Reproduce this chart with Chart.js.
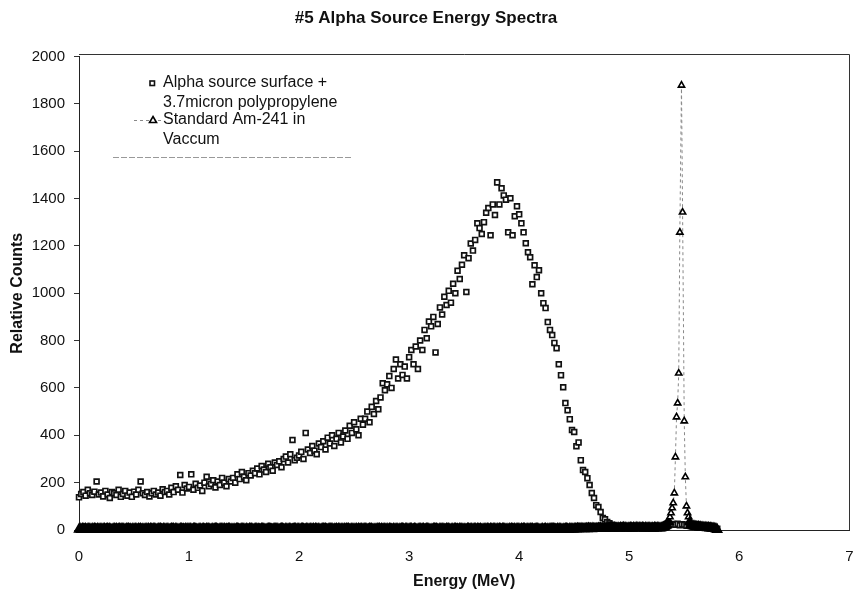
<!DOCTYPE html>
<html>
<head>
<meta charset="utf-8">
<script src="https://cdn.jsdelivr.net/npm/chart.js@4.4.1/dist/chart.umd.min.js"></script>
<style>
  html, body { margin: 0; padding: 0; background: #fff; }
  #wrap { width: 856px; height: 594px; position: relative; }
</style>
</head>
<body>
<div id="wrap"><canvas id="spectra"></canvas></div>
<script>
// channel widths (MeV per channel); both runs start at 0 MeV
const alphaStep = 0.02;
const amStep = 0.01;

// alpha source surface + 3.7 micron polypropylene, counts per channel
const alphaCounts = [
  138,152,160,145,170,155,148,162,205,150,
  158,142,165,150,135,160,155,148,170,140,
  152,165,145,158,140,162,150,170,205,155,
  148,160,142,155,165,150,158,145,172,160,
  165,150,178,160,185,170,232,158,190,175,
  182,235,170,195,178,188,165,200,225,185,
  195,210,180,205,190,220,200,185,215,205,
  220,200,235,215,245,225,210,240,230,250,
  240,260,235,270,255,245,280,265,250,285,
  275,290,265,300,310,285,320,380,295,305,
  315,330,300,410,340,325,355,335,320,365,
  350,375,340,390,365,400,355,385,410,370,
  395,420,385,440,410,455,425,400,470,445,
  470,500,455,520,490,545,510,560,620,590,
  615,650,600,680,720,640,700,655,690,640,
  730,760,700,775,680,800,760,845,810,880,
  860,900,750,870,940,910,985,950,1010,960,
  1040,1000,1095,1060,1120,1160,1005,1148,1210,1180,
  1225,1295,1275,1250,1300,1340,1360,1245,1375,1330,
  1468,1375,1443,1413,1395,1257,1401,1245,1325,1367,
  1333,1295,1257,1211,1173,1152,1038,1118,1068,1097,
  1000,958,937,878,845,823,790,768,700,654,
  603,536,506,468,422,414,354,370,295,253,
  245,219,190,156,135,105,97,76,51,45,
  34,28,22,18,15,12,10,14,9,11,
  8,12,7,10,9,13,8,11,7,10,
  9,12,8,14,10,15,18,22,20,24,
  25,22,26,20,24,22,18,23,20,16,
  14,12,15,10,13,9,11,8,10,7,
  5
];

// standard Am-241 in vacuum: flat part below the line (0 .. 5.34 MeV)
const amBaseCounts = [
  3,5,2,6,4,3,5,2,4,6, 4,2,5,3,6,4,2,5,3,4,
  5,3,4,6,2,4,5,3,6,2, 2,4,6,3,5,2,4,6,3,5,
  6,3,2,5,4,6,3,4,2,5, 3,6,4,2,5,3,6,2,4,3,
  4,5,3,6,2,5,4,3,5,6, 2,3,5,4,6,3,2,5,4,3,
  5,4,2,3,6,4,5,2,6,4, 3,2,6,5,3,4,2,6,3,5,
  4,6,3,2,5,6,4,3,2,4, 6,2,4,5,3,2,5,4,6,3,
  2,5,3,4,6,5,3,2,4,6, 5,3,6,2,4,3,6,5,2,4,
  3,4,2,6,5,4,2,3,5,6, 4,2,5,3,2,6,4,5,3,2,
  6,5,3,4,3,2,5,6,4,3, 2,4,6,5,4,3,2,4,6,5,
  5,3,2,4,6,5,3,2,5,4, 3,6,4,2,3,4,6,5,2,6,
  4,2,5,6,4,2,3,6,4,3, 6,4,3,5,2,6,4,3,5,2,
  3,5,6,4,5,3,2,4,6,5, 5,2,4,3,6,2,5,4,3,6,
  2,6,3,5,4,6,2,3,5,4, 4,3,5,2,6,3,4,6,2,5,
  6,4,2,3,5,4,6,2,3,4, 3,5,4,6,2,5,3,4,6,2,
  5,2,6,4,3,2,5,3,4,6, 2,4,3,5,6,4,2,6,5,3,
  4,6,5,2,3,6,4,2,3,5, 6,3,4,5,2,3,6,5,4,2,
  3,2,5,6,4,5,3,2,6,4, 5,4,3,2,6,4,5,3,2,6,
  2,5,6,3,4,2,6,4,5,3, 4,3,2,6,5,3,4,5,2,6,
  6,2,5,4,3,6,2,3,4,5, 3,6,4,2,5,4,3,6,5,2,
  5,3,6,4,2,5,6,4,3,4, 2,5,3,6,4,3,5,2,6,5,
  4,2,6,3,5,6,2,4,5,3, 6,4,5,2,3,4,6,5,3,2,
  3,5,2,4,6,2,4,3,5,6, 5,6,4,3,2,5,3,6,4,2,
  4,3,5,6,4,2,5,4,6,3, 5,6,4,7,5,6,5,7,6,5,
  6,7,5,8,6,7,5,8,7,6, 7,6,8,7,9,6,8,7,6,8,
  8,9,7,10,8,9,7,10,9,8, 9,7,10,8,9,11,8,10,7,9,
  8,10,9,7,10,8,9,11,8,10, 9,8,10,9,7,10,8,9,10,8,
  8,9,7,10,9,8,10,9,8,9,
  10,12,14,17,22
];

// the 5.48 MeV line itself
const amPeakEnergy = [5.36,5.37,5.38,5.39,5.40,5.41,5.42,5.43,5.44,5.45,5.46,5.475,5.485,5.50,5.51,5.52,5.53,5.54,5.55,5.56];
const amPeakCounts = [34,55,72,93,114,156,308,477,536,662,1257,1878,1342,460,224,101,72,55,34,20];

// tail after the line, starting at 5.58 MeV
const amTailStart = 5.58;
const amTailCounts = [17,16,15,14,13,14,12,13,11,12,10,11,10,9,10,8,9,8,7,8,6,4,2];

const xTicks = [0, 1, 2, 3, 4, 5, 6, 7];
const yTicks = [0, 200, 400, 600, 800, 1000, 1200, 1400, 1600, 1800, 2000];

const alphaPoints = alphaCounts.map((c, i) => ({ x: +(i * alphaStep).toFixed(3), y: c }));
const amPoints = amBaseCounts.map((c, i) => ({ x: +(i * amStep).toFixed(3), y: c }))
  .concat(amPeakEnergy.map((e, i) => ({ x: e, y: amPeakCounts[i] })))
  .concat(amTailCounts.map((c, i) => ({ x: +(amTailStart + i * amStep).toFixed(3), y: c })));

// markers sitting on the floor overlap into the heavy black band of the print
const onFloor = c => !!(c.raw && c.raw.y < 40);

Chart.defaults.font.family = '"Liberation Sans", Arial, sans-serif';
Chart.defaults.color = '#111';

// plot frame (top and right edges) like the spreadsheet chart
const framePlugin = {
  id: 'frame',
  beforeDatasetsDraw(chart) {
    const { ctx, chartArea: a } = chart;
    ctx.save();
    ctx.strokeStyle = '#333';
    ctx.lineWidth = 1;
    ctx.beginPath();
    ctx.moveTo(a.left, Math.round(a.top) - 1.5);
    ctx.lineTo(Math.round(a.right) + 0.5, Math.round(a.top) - 1.5);
    ctx.lineTo(Math.round(a.right) + 0.5, a.bottom);
    ctx.stroke();
    ctx.restore();
  }
};

// legend inside the plot, two-line labels
const legendPlugin = {
  id: 'boxLegend',
  afterDraw(chart) {
    const { ctx, chartArea: a } = chart;
    const x0 = a.left;
    ctx.save();
    ctx.font = '16px "Liberation Sans", Arial, sans-serif';
    ctx.textBaseline = 'middle';
    ctx.textAlign = 'left';

    // square marker
    ctx.lineWidth = 1.6;
    ctx.strokeStyle = '#111';
    ctx.fillStyle = '#fff';
    ctx.fillRect(x0 + 71, 81, 4.5, 4.5);
    ctx.strokeRect(x0 + 71, 81, 4.5, 4.5);
    ctx.fillStyle = '#111';
    ctx.fillText('Alpha source surface +', x0 + 84, 83);
    ctx.fillText('3.7micron polypropylene', x0 + 84, 103);

    // dashed line + triangle marker
    ctx.strokeStyle = '#888';
    ctx.lineWidth = 1;
    ctx.setLineDash([3, 3]);
    ctx.beginPath();
    ctx.moveTo(x0 + 55, 120.5);
    ctx.lineTo(x0 + 82, 120.5);
    ctx.stroke();
    ctx.setLineDash([]);
    ctx.strokeStyle = '#000';
    ctx.lineWidth = 1.6;
    ctx.fillStyle = '#fff';
    ctx.beginPath();
    ctx.moveTo(x0 + 74, 116.5);
    ctx.lineTo(x0 + 77.5, 122.5);
    ctx.lineTo(x0 + 70.5, 122.5);
    ctx.closePath();
    ctx.fill();
    ctx.stroke();
    ctx.fillStyle = '#111';
    ctx.fillText('Standard Am-241 in', x0 + 84, 120);
    ctx.fillText('Vaccum', x0 + 84, 140);

    // bottom edge of the legend box
    ctx.strokeStyle = '#999';
    ctx.lineWidth = 1;
    ctx.setLineDash([6, 2]);
    ctx.beginPath();
    ctx.moveTo(x0 + 34, 157.5);
    ctx.lineTo(x0 + 272, 157.5);
    ctx.stroke();
    ctx.restore();
  }
};

new Chart(document.getElementById('spectra'), {
  type: 'scatter',
  data: {
    datasets: [
      {
        label: 'Standard Am-241 in Vaccum',
        data: amPoints,
        order: 0,
        showLine: true,
        borderColor: '#888',
        borderWidth: 1,
        borderDash: [3, 3],
        pointStyle: 'triangle',
        pointRadius: c => (onFloor(c) ? 4.3 : 3.6),
        pointBorderWidth: c => (onFloor(c) ? 2.4 : 1.6),
        pointBorderColor: '#000',
        pointBackgroundColor: c => (onFloor(c) ? '#000' : '#fff'),
        clip: false
      },
      {
        label: 'Alpha source surface + 3.7micron polypropylene',
        data: alphaPoints,
        order: 1,
        showLine: false,
        pointStyle: 'rect',
        pointRadius: 3.4,
        pointBorderWidth: 1.7,
        pointBorderColor: '#111',
        pointBackgroundColor: '#fff',
        clip: false
      }
    ]
  },
  options: {
    responsive: true,
    maintainAspectRatio: false,
    animation: false,
    devicePixelRatio: 1,
    layout: { padding: { left: 0, right: 4, top: 0, bottom: 0 } },
    plugins: {
      legend: { display: false },
      tooltip: { enabled: false },
      title: {
        display: true,
        text: '#5 Alpha Source Energy Spectra',
        color: '#111',
        font: { size: 17, weight: 'bold' },
        padding: { top: 8, bottom: 28 }
      }
    },
    scales: {
      x: {
        type: 'linear',
        min: 0,
        max: 7,
        afterBuildTicks: s => { s.ticks = xTicks.map(v => ({ value: v })); },
        afterFit: s => { s.height = 64; s.paddingLeft = 0; s.paddingRight = 0; },
        ticks: { font: { size: 15 }, color: '#111', padding: 10, maxRotation: 0, callback: v => String(v) },
        grid: { display: false },
        border: { display: true, color: '#222', width: 1 },
        title: {
          display: true,
          text: 'Energy (MeV)',
          color: '#111',
          font: { size: 16, weight: 'bold' },
          padding: { top: 0, bottom: 3 }
        }
      },
      y: {
        type: 'linear',
        min: 0,
        max: 2000,
        afterBuildTicks: s => { s.ticks = yTicks.map(v => ({ value: v })); },
        afterFit: s => { s.width = 79; s.paddingTop = 0; s.paddingBottom = 0; },
        ticks: { font: { size: 15 }, color: '#111', padding: 9, callback: v => String(v) },
        grid: { display: true, drawOnChartArea: false, drawTicks: true, tickLength: 5, color: '#333' },
        border: { display: true, color: '#222', width: 1 },
        title: {
          display: true,
          text: 'Relative Counts',
          color: '#111',
          font: { size: 16, weight: 'bold' },
          padding: { top: 8, bottom: 0 }
        }
      }
    }
  },
  plugins: [framePlugin, legendPlugin]
});
</script>
</body>
</html>
